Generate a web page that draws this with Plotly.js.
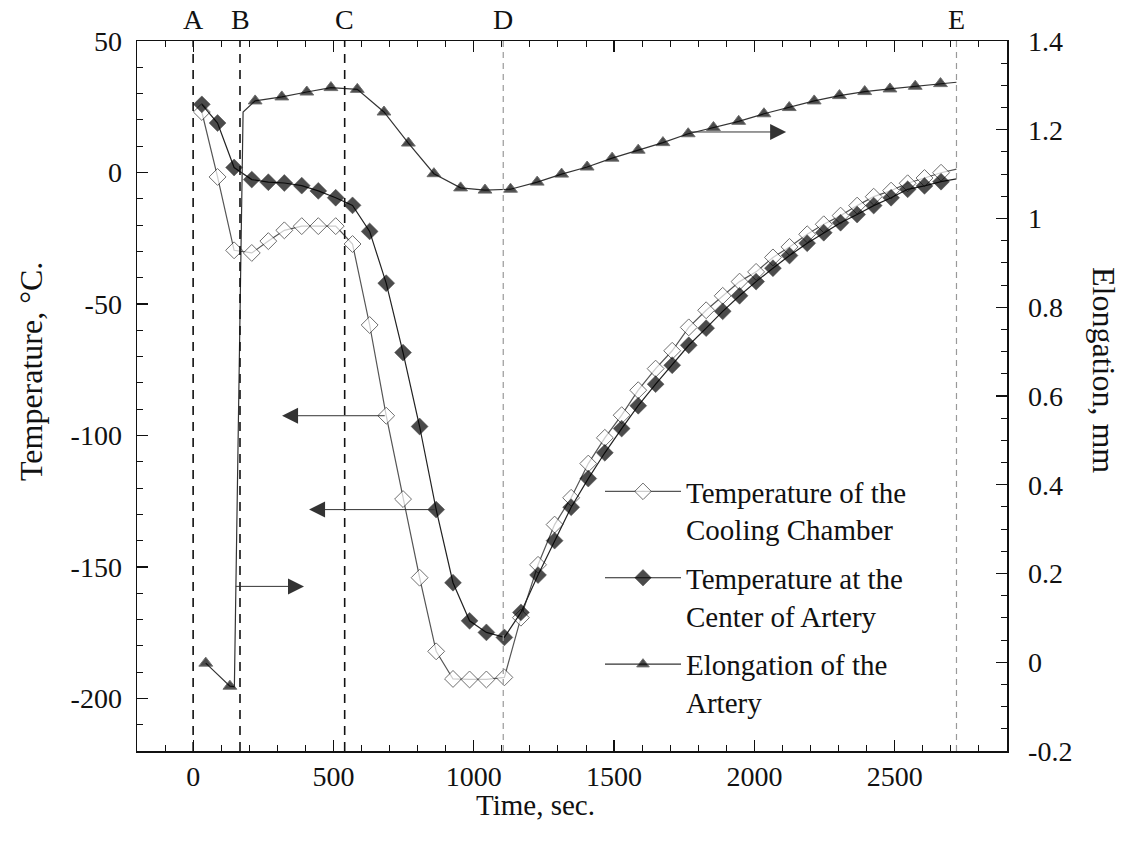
<!DOCTYPE html>
<html><head><meta charset="utf-8">
<script src="https://cdn.plot.ly/plotly-3.0.1.min.js"></script>
<style>html,body{margin:0;padding:0;background:#fff;}#chart{width:1131px;height:851px;}</style>
</head><body><div id="chart"></div>
<script>
// ---- data ----
const timeSec = [31, 87, 146, 209, 268, 325, 387, 446, 508, 568, 629, 688, 748, 807, 866, 926, 985, 1045, 1109, 1168, 1229, 1288, 1347, 1408, 1467, 1527, 1586, 1648, 1707, 1766, 1828, 1887, 1947, 2006, 2066, 2125, 2188, 2247, 2307, 2366, 2425, 2487, 2546, 2606, 2665, 2720];
const chamberTemp = [23.0, -1.7, -29.6, -30.6, -26.1, -22.0, -20.4, -20.4, -20.4, -27.2, -58.0, -92.5, -124.2, -154.1, -182.1, -192.6, -192.8, -192.8, -192.0, -169.3, -149.2, -133.9, -123.7, -110.7, -100.9, -92.3, -82.8, -74.6, -67.8, -58.9, -52.4, -46.9, -41.5, -37.8, -32.3, -28.3, -23.5, -19.7, -16.4, -12.6, -9.2, -6.9, -4.1, -2.1, -0.1, 1.3];
const centerTemp = [25.9, 18.8, 1.9, -2.7, -3.7, -4.0, -5.0, -7.0, -9.6, -12.5, -22.4, -42.1, -68.5, -96.6, -128.2, -156.0, -170.5, -174.9, -176.8, -167.3, -153.1, -140.0, -127.3, -116.4, -106.6, -97.4, -88.7, -80.5, -73.3, -65.7, -59.2, -52.8, -46.9, -41.5, -36.4, -31.6, -26.9, -22.9, -19.1, -16.0, -12.6, -9.6, -6.4, -5.1, -3.5, -2.4];
const elongTime = [45, 131, 147, 178, 221, 316, 405, 491, 585, 680, 767, 858, 953, 1040, 1131, 1226, 1313, 1404, 1493, 1586, 1674, 1764, 1854, 1944, 2034, 2124, 2213, 2303, 2393, 2483, 2573, 2663, 2720];
const elongation = [-0.002, -0.054, -0.055, 1.24, 1.265, 1.274, 1.285, 1.295, 1.291, 1.240, 1.170, 1.101, 1.069, 1.064, 1.066, 1.082, 1.100, 1.116, 1.136, 1.154, 1.171, 1.191, 1.205, 1.219, 1.236, 1.250, 1.265, 1.277, 1.286, 1.292, 1.298, 1.304, 1.307];
const lineOnlyTimes = [147, 178, 2720];   // points on the curves that carry no marker
const phaseLabels = ['A', 'B', 'C', 'D', 'E'];
const phaseTimes = [0, 167, 540, 1105, 2720];
const xTickVals = [0, 500, 1000, 1500, 2000, 2500];
const xTickText = ['0', '500', '1000', '1500', '2000', '2500'];
const yTickVals = [-200, -150, -100, -50, 0, 50];
const yTickText = ['-200', '-150', '-100', '-50', '0', '50'];
const y2TickVals = [-0.2, 0, 0.2, 0.4, 0.6, 0.8, 1.0, 1.2, 1.4];
const y2TickText = ['-0.2', '0', '0.2', '0.4', '0.6', '0.8', '1', '1.2', '1.4'];
const legendNames = ['Temperature of the<br>Cooling Chamber', 'Temperature at the<br>Center of Artery', 'Elongation of the<br>Artery'];
const xTitle = 'Time, sec.';
const yTitle = 'Temperature, \u00B0C.';
const y2Title = 'Elongation, mm';

// ---- drawing ----
const FONT = 'Liberation Serif, Times New Roman, serif';
const INK = '#111';
const sizesFor = (ts, s) => ts.map(t => lineOnlyTimes.includes(t) ? 0 : s);

const traces = [
  { x: timeSec, y: chamberTemp, name: legendNames[0], legendgroup: 'g1', type: 'scatter', mode: 'lines+markers',
    line: { color: '#555', width: 1.2 },
    marker: { symbol: 'diamond', size: sizesFor(timeSec, 13), color: '#fff', line: { color: '#333', width: 1 } } },
  { x: timeSec, y: centerTemp, name: legendNames[1], legendgroup: 'g2', type: 'scatter', mode: 'lines+markers',
    line: { color: '#222', width: 1.2 },
    marker: { symbol: 'diamond', size: sizesFor(timeSec, 13), color: '#000', line: { color: '#000', width: 0.5 } } },
  { x: elongTime, y: elongation, name: legendNames[2], legendgroup: 'g3', type: 'scatter', mode: 'lines+markers', yaxis: 'y2',
    line: { color: '#333', width: 1.2 },
    marker: { symbol: 'triangle-up', size: sizesFor(elongTime, 12), color: '#000' } }
];

const shapes = phaseTimes.map((t, i) => ({
  type: 'line', xref: 'x', yref: 'paper', x0: t, x1: t, y0: 0, y1: 1,
  line: i < 3 ? { color: '#111', width: 1.6, dash: '9px,7px' } : { color: '#999', width: 1.2, dash: '6px,5px' }
}));

const annotations = phaseLabels.map((s, i) => ({
  text: s, xref: 'x', yref: 'paper', x: phaseTimes[i], y: 1, yanchor: 'bottom', yshift: 4,
  showarrow: false, font: { family: FONT, size: 28, color: INK }
}));

// axis titles
const L = 137, R = 124, T = 41, B = 100, W = 1131, H = 851;
const pw = W - L - R, ph = H - T - B;
const px2x = p => (p - L) / pw, py2y = p => 1 - (p - T) / ph;
annotations.push(
  { text: xTitle, xref: 'paper', yref: 'paper', x: px2x(535), y: py2y(805), xanchor: 'center', yanchor: 'middle', showarrow: false,
    font: { family: FONT, size: 29, color: INK } },
  { text: yTitle, xref: 'paper', yref: 'paper', x: px2x(31), y: py2y(372), xanchor: 'center', yanchor: 'middle', showarrow: false, textangle: -90,
    font: { family: FONT, size: 32, color: INK } },
  { text: y2Title, xref: 'paper', yref: 'paper', x: px2x(1104), y: py2y(370), xanchor: 'center', yanchor: 'middle', showarrow: false, textangle: 90,
    font: { family: FONT, size: 32, color: INK } }
);

// pointer arrows
const arrowStyle = { text: '', showarrow: true, arrowhead: 2, arrowsize: 3.2, arrowwidth: 1, arrowcolor: '#333', standoff: 0 };
annotations.push(
  Object.assign({ xref: 'x', yref: 'y2', axref: 'x', ayref: 'y2', x: 2113, y: 1.195, ax: 1764, ay: 1.195 }, arrowStyle),
  Object.assign({ xref: 'x', yref: 'y', axref: 'x', ayref: 'y', x: 317, y: -92.5, ax: 688, ay: -92.5 }, arrowStyle),
  Object.assign({ xref: 'x', yref: 'y', axref: 'x', ayref: 'y', x: 413, y: -128.2, ax: 866, ay: -128.2 }, arrowStyle),
  Object.assign({ xref: 'x', yref: 'y', axref: 'x', ayref: 'y', x: 395, y: -157.4, ax: 147, ay: -157.4 }, arrowStyle)
);

const axisCommon = {
  showline: true, linecolor: INK, linewidth: 1.5, showgrid: false, zeroline: false,
  ticks: 'inside', ticklen: 11, tickwidth: 1.2, tickcolor: INK,
  tickfont: { family: FONT, size: 28, color: INK }, tickmode: 'array'
};

const layout = {
  width: W, height: H, margin: { l: L, r: R, t: T, b: B, pad: 0 },
  paper_bgcolor: '#fff', plot_bgcolor: '#fff', showlegend: true,
  xaxis: Object.assign({}, axisCommon, { range: [-200, 2900], tickvals: xTickVals, ticktext: xTickText, mirror: 'ticks',
    minor: { dtick: 100, tick0: 0, ticks: 'inside', ticklen: 6, tickcolor: INK, tickwidth: 1 } }),
  yaxis: Object.assign({}, axisCommon, { range: [-220, 50], tickvals: yTickVals, ticktext: yTickText, mirror: true, ticklabelstandoff: 8,
    minor: { dtick: 10, tick0: 0, ticks: 'inside', ticklen: 6, tickcolor: INK, tickwidth: 1 } }),
  yaxis2: Object.assign({}, axisCommon, { range: [-0.2, 1.4], tickvals: y2TickVals, ticktext: y2TickText, overlaying: 'y', side: 'right', ticklabelstandoff: 14,
    minor: { dtick: 0.05, tick0: 0, ticks: 'inside', ticklen: 6, tickcolor: INK, tickwidth: 1 } }),
  legend: { x: px2x(600), y: py2y(466), xanchor: 'left', yanchor: 'top', bgcolor: 'rgba(0,0,0,0)', borderwidth: 0,
    font: { family: FONT, size: 29, color: INK }, itemwidth: 76, valign: 'top', tracegroupgap: 8 },
  shapes: shapes, annotations: annotations
};

Plotly.newPlot('chart', traces, layout, { displayModeBar: false, staticPlot: true });
</script></body></html>
